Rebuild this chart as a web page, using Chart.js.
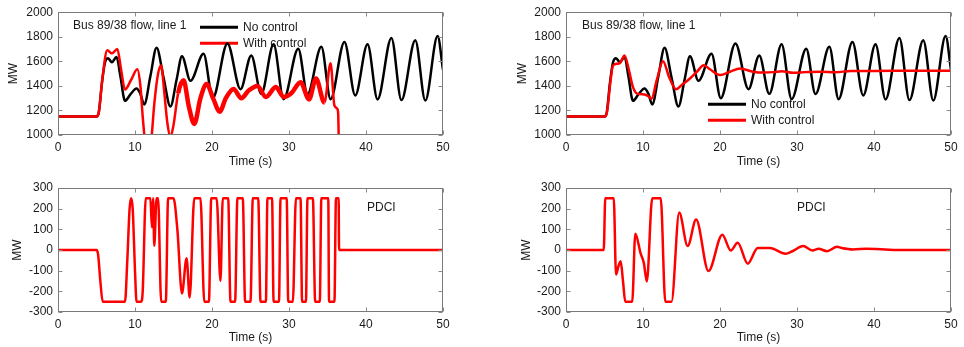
<!DOCTYPE html>
<html><head><meta charset="utf-8">
<script src="https://cdn.jsdelivr.net/npm/chart.js@4/dist/chart.umd.min.js"></script>
<style>
html,body{margin:0;padding:0;background:#fff;width:964px;height:347px;overflow:hidden}
canvas{position:absolute}
</style></head><body>
<canvas id="tl" width="482" height="175" style="left:0;top:0"></canvas>
<canvas id="tr" width="482" height="175" style="left:482px;top:0"></canvas>
<canvas id="bl" width="482" height="172" style="left:0;top:175px"></canvas>
<canvas id="br" width="482" height="172" style="left:482px;top:175px"></canvas>
<script>
// ---- tick labels / text ----
const timeTicks = [0, 10, 20, 30, 40, 50];
const flowTicks = [1000, 1200, 1400, 1600, 1800, 2000];
const pdciTicks = [-300, -200, -100, 0, 100, 200, 300];
const flowNote = 'Bus 89/38 flow, line 1';
const pdciNote = 'PDCI';
const seriesNames = ['No control', 'With control'];
const xTitle = 'Time (s)';
const yTitle = 'MW';

// ---- No control flow (same in both top panels) ----
const noCtrlT = [0,5.0,5.3,5.7,6.1,6.5,7.0,7.6,8.1,8.7,9.4,10.2,10.7,11.2,12.0,12.8,13.7,14.6,15.4,16.1,17.2,18.9,20.1,22.0,23.7,25.1,26.4,28.0,29.3,31.2,32.4,34.2,35.4,37.2,38.6,40.2,41.5,43.3,44.6,46.4,47.7,49.3,50];
const noCtrlMW = [1150,1150,1185,1420,1590,1625,1592,1636,1480,1278,1330,1378,1335,1248,1480,1710,1470,1232,1450,1642,1441,1661,1300,1745,1373,1648,1335,1738,1292,1703,1333,1718,1292,1758,1322,1738,1290,1790,1284,1772,1280,1806,1530];

// ---- With control flow, left panel ----
const ctrlLeftT = [0,5.0,5.3,5.8,6.4,7.0,7.7,8.2,8.7,9.5,10.3,10.7,11.0,11.3,11.7,12.1,12.5,13.0,13.4,13.8,14.2,14.6,15.0,15.6,16.3,17.0,17.7,18.5,19.3,20.2,21.0,21.8,22.8,23.8,24.8,25.9,27.0,28.3,29.3,30.3,31.5,32.6,33.5,34.6,35.4,35.9,36.3,36.4,36.5];
const ctrlLeftMW = [1150,1150,1185,1480,1690,1665,1700,1530,1370,1450,1535,1400,1150,950,850,950,1250,1500,1565,1350,1100,985,1080,1340,1445,1230,1090,1300,1415,1290,1190,1300,1375,1300,1365,1400,1310,1390,1310,1340,1430,1290,1460,1265,1585,1240,1210,1150,850];

// ---- With control flow, right panel ----
const ctrlRightT = [0,5.0,5.3,5.8,6.1,6.6,7.0,7.6,8.2,8.7,9.3,10.2,10.7,11.1,11.8,12.6,13.4,14.3,15.0,16.1,17.0,17.9,18.7,20.0,21.3,22.6,24.3,25.5,27.0,28.0,29.5,31.0,33.0,35.0,37.0,40.0,45.0,50.0];
const ctrlRightMW = [1150,1150,1180,1450,1565,1580,1585,1648,1520,1390,1335,1330,1315,1295,1450,1600,1470,1372,1405,1460,1515,1568,1535,1488,1515,1542,1515,1508,1512,1520,1506,1512,1516,1510,1522,1522,1524,1524];

// ---- PDCI, left panel ----
const pdciLeftT = [0,5.0,5.2,5.5,5.8,8.7,9.0,9.3,9.5,9.7,10.0,10.2,10.8,11.0,11.4,12.0,12.2,12.35,12.5,12.8,13.0,13.4,14.0,14.3,15.0,15.5,16.1,16.7,17.1,17.7,18.5,19.0,19.6,19.9,20.6,21.1,21.4,22.1,22.4,23.0,23.3,24.0,24.3,25.0,25.3,26.0,26.3,27.0,27.2,27.8,28.0,28.7,28.9,29.7,29.9,30.5,30.9,31.5,31.7,32.2,32.4,33.1,33.4,34.0,34.2,35.1,35.2,35.9,36.1,36.45,36.5,50];
const pdciLeftMW = [0,0,-20,-150,-250,-250,-50,200,250,200,-100,-250,-250,-200,250,250,110,250,20,250,250,-250,-250,250,250,100,-210,-40,-230,250,250,-250,-250,250,250,-150,250,250,-250,-250,250,250,-250,-250,250,250,-250,-250,250,250,-250,-250,250,250,-250,-250,250,250,-250,-250,250,250,-250,-250,250,250,-250,-250,250,250,0,0];

// ---- PDCI, right panel ----
const pdciRightT = [0,4.9,5.1,6.2,6.5,6.8,7.1,7.4,7.7,8.6,9.0,9.7,10.1,10.5,11.2,12.3,12.9,13.7,14.7,15.8,16.9,18.5,20.3,21.4,22.3,23.6,24.9,26.5,28.5,29.4,30.8,32.0,32.8,33.9,35.2,35.8,37.3,39.0,41.4,43.0,50];
const pdciRightMW = [0,0,250,250,-119,-80,-55,-150,-250,-250,79,-18,-61,-152,250,250,-250,-250,181,19,148,-102,74,-2,35,-66,10,10,-18,-6,19,-2,6,-6,16,10,3,6,3,0,0];

const pts = (t, v) => t.map((x, i) => ({x: x, y: v[i]}));
const RED = '#ff0000', BLACK = '#000000';
const FONT = "'Liberation Sans', Arial, Helvetica, sans-serif";
Chart.defaults.font.family = FONT;
Chart.defaults.font.size = 12;
Chart.defaults.color = '#1a1a1a';

const boxPlugin = {
  id: 'mbox',
  beforeDatasetsDraw(chart, args, o) {
    const {ctx, chartArea: a} = chart;
    ctx.save();
    ctx.font = '12px ' + FONT;
    ctx.fillStyle = '#1a1a1a';
    ctx.textBaseline = 'middle';
    ctx.textAlign = 'left';
    if (o.note) ctx.fillText(o.note, a.left + o.noteX, a.top + o.noteY);
    if (o.legendY !== undefined) {
      const cols = [BLACK, RED];
      for (let i = 0; i < 2; i++) {
        const yy = a.top + o.legendY + i * 16;
        ctx.strokeStyle = cols[i]; ctx.lineWidth = 3;
        ctx.beginPath(); ctx.moveTo(a.left + 142, yy); ctx.lineTo(a.left + 180, yy); ctx.stroke();
        ctx.fillText(seriesNames[i], a.left + 185, yy);
      }
    }
    ctx.restore();
  },
  afterDatasetsDraw(chart) {
    const {ctx, chartArea: a, scales: {x, y}} = chart;
    ctx.save();
    const L = Math.round(a.left) + 0.5, R = Math.round(a.right) - 0.5;
    const T = Math.round(a.top) + 0.5, B = Math.round(a.bottom) - 0.5;
    ctx.strokeStyle = '#8a8a8a'; ctx.lineWidth = 1;
    ctx.beginPath();
    x.ticks.forEach(t => {
      const px = Math.round(x.getPixelForValue(t.value)) + 0.5;
      ctx.moveTo(px, B); ctx.lineTo(px, B - 4);
      ctx.moveTo(px, T); ctx.lineTo(px, T + 4);
    });
    y.ticks.forEach(t => {
      const py = Math.round(y.getPixelForValue(t.value)) + 0.5;
      ctx.moveTo(L, py); ctx.lineTo(L + 4, py);
      ctx.moveTo(R, py); ctx.lineTo(R - 4, py);
    });
    ctx.stroke();
    ctx.strokeStyle = '#7a7a7a';
    ctx.strokeRect(L, T, R - L, B - T);
    ctx.restore();
  }
};

function makeChart(id, datasets, cfg) {
  return new Chart(document.getElementById(id), {
    type: 'line',
    data: {datasets: datasets},
    plugins: [boxPlugin],
    options: {
      responsive: false, animation: false, devicePixelRatio: 1,
      layout: {padding: cfg.pad},
      elements: {point: {radius: 0}, line: {cubicInterpolationMode: 'monotone'}},
      plugins: {legend: {display: false}, tooltip: {enabled: false}, mbox: cfg.box},
      scales: {
        x: {
          type: 'linear', min: 0, max: 50,
          grid: {display: false, drawTicks: false}, border: {display: false},
          afterBuildTicks: s => { s.ticks = timeTicks.map(v => ({value: v})); },
          ticks: {padding: 5, maxRotation: 0, callback: v => String(v)},
          title: {display: true, text: xTitle, padding: {top: 0, bottom: cfg.xtb}},
          afterFit: s => { s.height = cfg.xh; }
        },
        y: {
          type: 'linear', min: cfg.ymin, max: cfg.ymax,
          grid: {display: false, drawTicks: false}, border: {display: false},
          afterBuildTicks: s => { s.ticks = cfg.yticks.map(v => ({value: v})); },
          ticks: {padding: 5, callback: v => String(v)},
          title: {display: true, text: yTitle, padding: {top: 4, bottom: 0}},
          afterFit: s => { s.width = cfg.yw; }
        }
      }
    }
  });
}

const thickSeg = ctx => (ctx.p0.parsed.x >= 15.5 && ctx.p1.parsed.x <= 35.3) ? 4.5 : undefined;

makeChart('tl', [
  {data: pts(ctrlLeftT, ctrlLeftMW), borderColor: RED, borderWidth: 2.5, order: 0, segment: {borderWidth: thickSeg}},
  {data: pts(noCtrlT, noCtrlMW), borderColor: BLACK, borderWidth: 2.5, order: 1}
], {pad: {left: 2, right: 39, top: 11, bottom: 0}, yw: 56, xh: 40, xtb: 6, ymin: 1000, ymax: 2000, yticks: flowTicks,
    box: {note: flowNote, noteX: 15, noteY: 13, legendY: 15}});

makeChart('tr', [
  {data: pts(ctrlRightT, ctrlRightMW), borderColor: RED, borderWidth: 2.5, order: 0},
  {data: pts(noCtrlT, noCtrlMW), borderColor: BLACK, borderWidth: 2.5, order: 1}
], {pad: {left: 29, right: 13, top: 11, bottom: 0}, yw: 55, xh: 40, xtb: 6, ymin: 1000, ymax: 2000, yticks: flowTicks,
    box: {note: flowNote, noteX: 16, noteY: 13, legendY: 92}});

makeChart('bl', [
  {data: pts(pdciLeftT, pdciLeftMW), borderColor: RED, borderWidth: 2.5}
], {pad: {left: 6, right: 39, top: 13, bottom: 0}, yw: 52, xh: 35, xtb: 2, ymin: -300, ymax: 300, yticks: pdciTicks,
    box: {note: pdciNote, noteX: 309, noteY: 20}});

makeChart('br', [
  {data: pts(pdciRightT, pdciRightMW), borderColor: RED, borderWidth: 2.5}
], {pad: {left: 33, right: 13, top: 13, bottom: 0}, yw: 51, xh: 35, xtb: 2, ymin: -300, ymax: 300, yticks: pdciTicks,
    box: {note: pdciNote, noteX: 231, noteY: 20}});
</script>
</body></html>
